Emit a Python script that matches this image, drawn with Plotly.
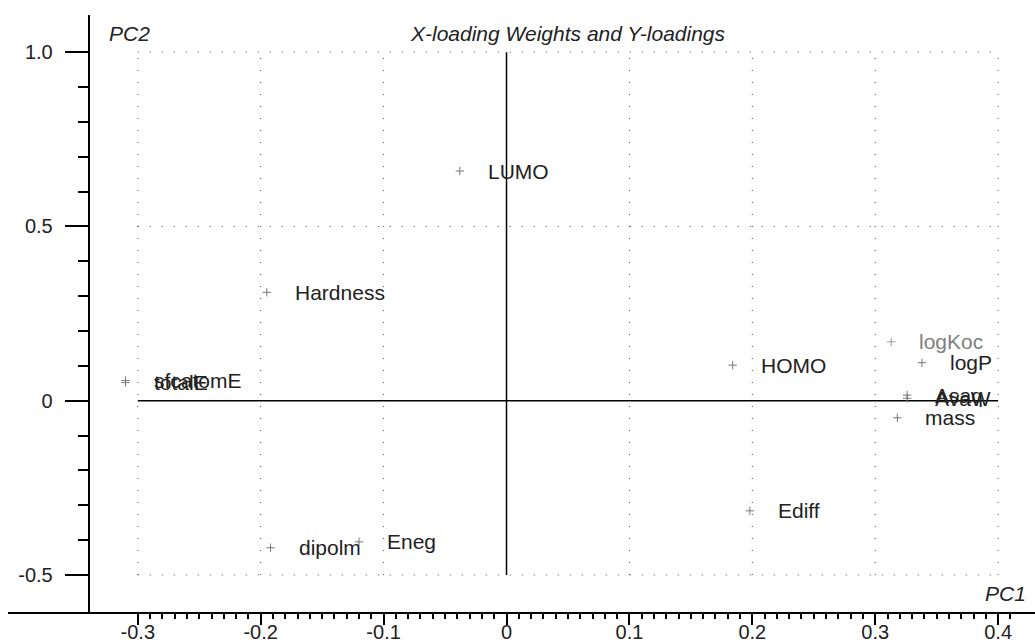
import numpy as np
import plotly.graph_objects as go

# X-loading weights (descriptors) on the first two PLS components
x_names = ["LUMO", "Hardness", "HOMO", "Ediff", "dipolm", "Eneg",
           "sfcatomE", "totalE", "logP", "Asaq", "AvaW", "mass"]
x_pc1 = [-0.038, -0.195, 0.184, 0.198, -0.192, -0.120,
         -0.310, -0.310, 0.338, 0.326, 0.326, 0.318]
x_pc2 = [0.659, 0.311, 0.102, -0.316, -0.422, -0.405,
         0.058, 0.052, 0.109, 0.016, 0.007, -0.049]

# Y-loadings (response)
y_names = ["logKoc"]
y_pc1 = [0.313]
y_pc2 = [0.169]

# Axis ticks
x_major = [-0.3, -0.2, -0.1, 0.0, 0.1, 0.2, 0.3, 0.4]
x_major_text = ["-0.3", "-0.2", "-0.1", "0", "0.1", "0.2", "0.3", "0.4"]
y_major = [-0.5, 0.0, 0.5, 1.0]
y_major_text = ["-0.5", "0", "0.5", "1.0"]
x_minor = [round(v, 2) for v in np.arange(-0.30, 0.415, 0.01)]
y_minor = [round(v, 2) for v in np.arange(-0.5, 1.05, 0.1)]
grid_x = [-0.3, -0.2, -0.1, 0.1, 0.2, 0.3, 0.4]
grid_y = [-0.5, 0.5, 1.0]

FONT = "Liberation Sans, Arial, sans-serif"
FS = 21
TICK_FS = 20
TEXT = "#222222"

fig = go.Figure()

fig.add_trace(go.Scatter(
    x=x_pc1, y=x_pc2, mode="markers",
    marker=dict(symbol="cross-thin", size=6, line=dict(width=1, color="#777777")),
    hoverinfo="text", text=x_names, showlegend=False))
fig.add_trace(go.Scatter(
    x=y_pc1, y=y_pc2, mode="markers",
    marker=dict(symbol="cross-thin", size=6, line=dict(width=1, color="#999999")),
    hoverinfo="text", text=y_names, showlegend=False))

annotations = []
for n, a, b in zip(x_names, x_pc1, x_pc2):
    annotations.append(dict(x=a, y=b, xref="x", yref="y", text=n, showarrow=False,
                            xanchor="left", yanchor="middle", xshift=26,
                            font=dict(family=FONT, size=FS, color=TEXT)))
for n, a, b in zip(y_names, y_pc1, y_pc2):
    annotations.append(dict(x=a, y=b, xref="x", yref="y", text=n, showarrow=False,
                            xanchor="left", yanchor="middle", xshift=26,
                            font=dict(family=FONT, size=FS, color="#808080")))

# titles
annotations.append(dict(x=0.5448, y=0.9698, xref="paper", yref="paper",
                        text="X-loading Weights and Y-loadings", showarrow=False,
                        xanchor="center", yanchor="middle",
                        font=dict(family=FONT, size=FS, color=TEXT, style="italic")))
annotations.append(dict(x=0.0964, y=0.9698, xref="paper", yref="paper",
                        text="PC2", showarrow=False, xanchor="left", yanchor="middle",
                        font=dict(family=FONT, size=FS, color=TEXT, style="italic")))
annotations.append(dict(x=0.9932, y=0.0318, xref="paper", yref="paper",
                        text="PC1", showarrow=False, xanchor="right", yanchor="middle",
                        font=dict(family=FONT, size=FS, color=TEXT, style="italic")))

shapes = []
for gx in grid_x:
    shapes.append(dict(type="line", xref="x", yref="y", x0=gx, x1=gx,
                       y0=min(grid_y), y1=max(grid_y), layer="below",
                       line=dict(color="#444444", width=1, dash="1px,11px")))
for gy in grid_y:
    shapes.append(dict(type="line", xref="x", yref="y", x0=min(grid_x), x1=max(grid_x),
                       y0=gy, y1=gy, layer="below",
                       line=dict(color="#444444", width=1, dash="1px,11px")))
# solid zero lines
shapes.append(dict(type="line", xref="x", yref="y", x0=min(grid_x), x1=max(grid_x),
                   y0=0, y1=0, layer="below", line=dict(color="black", width=1.5)))
shapes.append(dict(type="line", xref="x", yref="y", x0=0, x1=0,
                   y0=min(grid_y), y1=max(grid_y), layer="below",
                   line=dict(color="black", width=1.5)))

fig.update_layout(
    width=1035, height=644,
    margin=dict(l=8, r=0, t=15, b=32, autoexpand=False),
    paper_bgcolor="white", plot_bgcolor="white",
    font=dict(family=FONT, size=FS, color=TEXT),
    annotations=annotations, shapes=shapes,
    xaxis=dict(range=[-0.4056, 0.4300], domain=[0, 1], automargin=False,
               showgrid=False, zeroline=False,
               showline=True, linecolor="black", linewidth=2,
               tickmode="array", tickvals=x_major, ticktext=x_major_text,
               ticks="outside", ticklen=11, tickwidth=2, tickcolor="black",
               ticklabelstandoff=-10,
               minor=dict(tickmode="array", tickvals=x_minor, ticks="outside",
                          ticklen=5, tickwidth=1.5, tickcolor="black", showgrid=False),
               tickfont=dict(family=FONT, size=TICK_FS, color=TEXT)),
    yaxis=dict(range=[-0.6063, 1.1067], domain=[0, 1], automargin=False,
               anchor="free", position=0.0786,
               showgrid=False, zeroline=False,
               showline=True, linecolor="black", linewidth=2,
               tickmode="array", tickvals=y_major, ticktext=y_major_text,
               ticks="outside", ticklen=23, tickwidth=2, tickcolor="black",
               ticklabelstandoff=8,
               minor=dict(tickmode="array", tickvals=y_minor, ticks="outside",
                          ticklen=10, tickwidth=1.5, tickcolor="black", showgrid=False),
               tickfont=dict(family=FONT, size=TICK_FS, color=TEXT)),
)

fig.write_html("out.html")
